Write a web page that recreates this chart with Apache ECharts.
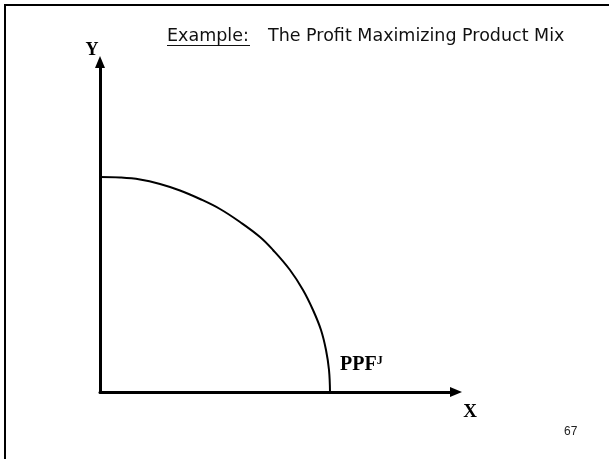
<!DOCTYPE html>
<html>
<head>
<meta charset="utf-8">
<title>Profit Maximizing Product Mix</title>
<script src="https://cdn.jsdelivr.net/npm/echarts@6/dist/echarts.min.js"></script>
<style>
  html, body { margin: 0; padding: 0; background: #fff; }
  #main { width: 609px; height: 459px; }
</style>
</head>
<body>
<div id="main"></div>
<script>
// texts
const titleLead = 'Example:'
const titleText = 'The Profit Maximizing Product Mix'
const curveName = 'PPF'
const curveSup = 'J'
const pageNo = '67'

// PPF curve (x units of X, y units of Y)
const ppfX = [0, 20, 40, 60, 80, 100, 120, 140, 160, 173, 190, 203, 213, 221, 226, 229, 230]
const ppfY = [215, 214.5, 212.5, 208, 201.5, 193, 183, 170, 155, 142, 122, 102, 82, 62, 42, 22, 0]

const axisMax = { x: 356, y: 330 }

const ppfData = ppfX.map((x, i) => [x, ppfY[i]])

const chart = echarts.init(document.getElementById('main'))

const axisCommon = {
  type: 'value',
  min: 0,
  axisLine: {
    show: true,
    onZero: false,
    symbol: ['none', 'triangle'],
    symbolSize: [10, 12],
    lineStyle: { color: '#000', width: 3 }
  },
  axisTick: { show: false },
  axisLabel: { show: false },
  splitLine: { show: false }
}

const option = {
  backgroundColor: '#fff',
  animation: false,
  grid: { left: 100, right: 153, top: 62, bottom: 67 },
  xAxis: Object.assign({}, axisCommon, {
    max: axisMax.x,
    name: 'X',
    nameLocation: 'end',
    nameGap: 14,
    nameTextStyle: {
      fontFamily: 'Liberation Serif', fontWeight: 'bold', fontSize: 19, color: '#000',
      align: 'center', verticalAlign: 'top', padding: [11, 0, 0, 0]
    }
  }),
  yAxis: Object.assign({}, axisCommon, {
    max: axisMax.y,
    name: 'Y',
    nameLocation: 'end',
    nameGap: 3,
    nameTextStyle: {
      fontFamily: 'Liberation Serif', fontWeight: 'bold', fontSize: 18, color: '#000',
      align: 'center', padding: [0, 16, 0, 0]
    }
  }),
  series: [{
    type: 'line',
    data: ppfData,
    showSymbol: false,
    smooth: 0.4,
    lineStyle: { color: '#000', width: 2 },
    silent: true
  }],
  graphic: [
    // slide frame (top and left edges)
    {
      type: 'polyline',
      shape: { points: [[5, 459], [5, 5], [609, 5]] },
      style: { stroke: '#000', lineWidth: 2, fill: null }
    },
    {
      type: 'text', left: 167, top: 27,
      style: { text: titleLead, font: '17.5px "DejaVu Sans", sans-serif', fill: '#111' }
    },
    {
      type: 'line',
      shape: { x1: 167, y1: 45.5, x2: 250, y2: 45.5 },
      style: { stroke: '#111', lineWidth: 1 }
    },
    {
      type: 'text', left: 268, top: 27,
      style: { text: titleText, font: '17.5px "DejaVu Sans", sans-serif', fill: '#111' }
    },
    {
      type: 'text', left: 340, top: 355,
      style: {
        text: '{a|' + curveName + '}{b|' + curveSup + '}',
        rich: {
          a: { fontFamily: 'Liberation Serif', fontWeight: 'bold', fontSize: 20, fill: '#000' },
          b: { fontFamily: 'Liberation Serif', fontWeight: 'bold', fontSize: 12, fill: '#000', verticalAlign: 'top', padding: [0, 0, 8, 0] }
        }
      }
    },
    {
      type: 'text', left: 564, top: 426,
      style: { text: pageNo, font: '12px "Liberation Sans", Arial, sans-serif', fill: '#222' }
    }
  ]
}

chart.setOption(option)
</script>
</body>
</html>
